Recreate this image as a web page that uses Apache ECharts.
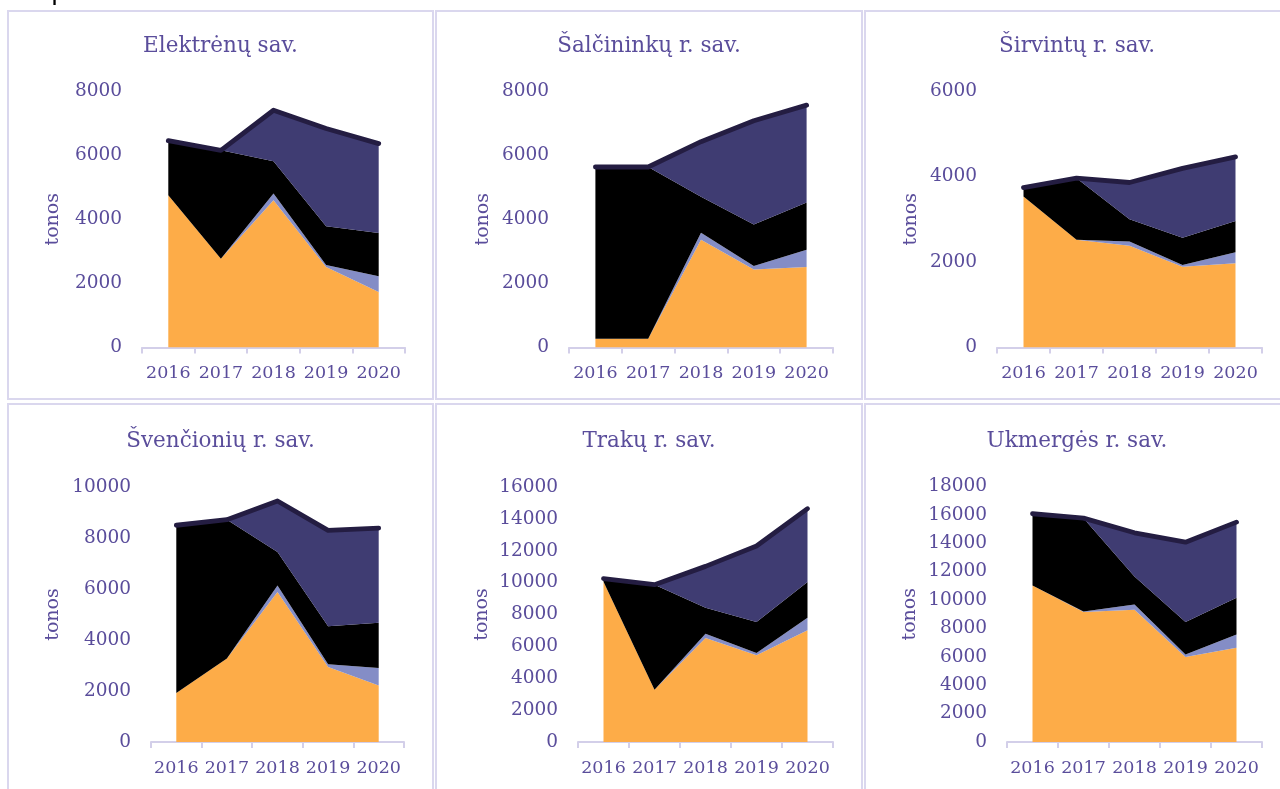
<!DOCTYPE html>
<html>
<head>
<meta charset="utf-8">
<script src="https://cdn.jsdelivr.net/npm/echarts@6/dist/echarts.min.js"></script>
<style>
html,body{margin:0;padding:0;background:#fff;}
#c{width:1280px;height:789px;}
</style>
</head>
<body>
<div id="c"></div>
<script>
const years = ['2016', '2017', '2018', '2019', '2020'];
const titles = ['Elektrėnų sav.', 'Šalčininkų r. sav.', 'Širvintų r. sav.', 'Švenčionių r. sav.', 'Trakų r. sav.', 'Ukmergės r. sav.'];
const yMax = [8000, 8000, 6000, 10000, 16000, 18000];
const yInterval = 2000;
const axisName = 'tonos';

const elektrenuOrange = [4750, 2770, 4590, 2510, 1730];
const elektrenuLight  = [0, 0, 210, 60, 490];
const elektrenuBlack  = [1700, 3380, 1010, 1210, 1350];
const elektrenuNavy   = [0, 0, 1590, 3050, 2790];

const salcininkuOrange = [270, 270, 3360, 2430, 2510];
const salcininkuLight  = [0, 0, 220, 110, 540];
const salcininkuBlack  = [5360, 5360, 1120, 1300, 1470];
const salcininkuNavy   = [0, 0, 1720, 3230, 3040];

const sirvintuOrange = [3530, 2520, 2380, 1890, 1970];
const sirvintuLight  = [0, 0, 100, 40, 260];
const sirvintuBlack  = [210, 1440, 520, 640, 730];
const sirvintuNavy   = [0, 0, 860, 1620, 1500];

const svencioniuOrange = [1920, 3270, 5880, 2940, 2220];
const svencioniuLight  = [0, 0, 260, 110, 680];
const svencioniuBlack  = [6580, 5450, 1310, 1490, 1780];
const svencioniuNavy   = [0, 0, 2000, 3760, 3710];

const trakuOrange = [10050, 3280, 6530, 5440, 7010];
const trakuLight  = [0, 0, 270, 140, 790];
const trakuBlack  = [200, 6590, 1630, 1950, 2240];
const trakuNavy   = [0, 0, 2590, 4770, 4600];

const ukmergesOrange = [11030, 9150, 9320, 5990, 6640];
const ukmergesLight  = [0, 50, 370, 180, 940];
const ukmergesBlack  = [5050, 6570, 1970, 2280, 2580];
const ukmergesNavy   = [0, 0, 3080, 5630, 5330];

const panels = [
  [elektrenuOrange, elektrenuLight, elektrenuBlack, elektrenuNavy],
  [salcininkuOrange, salcininkuLight, salcininkuBlack, salcininkuNavy],
  [sirvintuOrange, sirvintuLight, sirvintuBlack, sirvintuNavy],
  [svencioniuOrange, svencioniuLight, svencioniuBlack, svencioniuNavy],
  [trakuOrange, trakuLight, trakuBlack, trakuNavy],
  [ukmergesOrange, ukmergesLight, ukmergesBlack, ukmergesNavy]
];

const layerColors = ['#FDAC48', '#848DC6', '#000000', '#3F3C72'];
const totalColor = '#241D42';
const textColor = '#5A4D9B';
const borderColor = '#DAD7EE';
const FONT = '"DejaVu Serif", "Liberation Serif", serif';

// layout
const boxes = [
  {x: 8, y: 11, w: 425, h: 388},
  {x: 436, y: 11, w: 426, h: 388},
  {x: 865, y: 11, w: 424, h: 388},
  {x: 8, y: 404, w: 425, h: 400},
  {x: 436, y: 404, w: 426, h: 400},
  {x: 865, y: 404, w: 424, h: 400}
];
const grids = [
  {left: 142, top: 91, width: 263, height: 256.5},
  {left: 569, top: 91, width: 264, height: 256.5},
  {left: 997, top: 91, width: 265, height: 256.5},
  {left: 151, top: 487, width: 253, height: 255},
  {left: 578, top: 487, width: 255, height: 255},
  {left: 1007, top: 486.5, width: 255, height: 255.5}
];
const nameGaps = [79, 76, 76, 88, 86, 87];
const titleY = [46, 46, 46, 441, 441, 441];

const graphic = [];
boxes.forEach(b => {
  graphic.push({type: 'rect', shape: {x: b.x, y: b.y, width: b.w, height: b.h},
    style: {fill: '#fff', stroke: borderColor, lineWidth: 2}, z: -10});
});
boxes.forEach((b, i) => {
  graphic.push({type: 'text', x: b.x + b.w / 2, y: titleY[i],
    style: {text: titles[i], align: 'center', verticalAlign: 'middle',
      font: '21.5px ' + FONT, fill: textColor}, z: 10});
});
graphic.push({type: 'text', x: 51, y: -8,
  style: {text: 'p', align: 'left', verticalAlign: 'middle', font: '26px "DejaVu Sans"', fill: '#000'}, z: 10});

const xAxis = [], yAxis = [], series = [];
grids.forEach((g, i) => {
  xAxis.push({type: 'category', gridIndex: i, data: years, boundaryGap: true,
    axisLine: {lineStyle: {color: '#D3CFE9', width: 2}},
    axisTick: {show: true, length: 6, lineStyle: {color: '#D3CFE9', width: 2}},
    axisLabel: {color: textColor, fontFamily: FONT, fontSize: 17.5, margin: 17, interval: 0},
    splitLine: {show: false}});
  yAxis.push({type: 'value', gridIndex: i, min: 0, max: yMax[i], interval: yInterval,
    name: axisName, nameLocation: 'middle', nameGap: nameGaps[i], nameRotate: 90,
    nameTextStyle: {color: textColor, fontFamily: FONT, fontSize: 19},
    axisLine: {show: false}, axisTick: {show: false}, splitLine: {show: false},
    axisLabel: {color: textColor, fontFamily: FONT, fontSize: 18.5, margin: 20,
      formatter: v => String(v)}});
  const layers = panels[i];
  layers.forEach((d, k) => {
    series.push({type: 'line', xAxisIndex: i, yAxisIndex: i, stack: 'p' + i, data: d,
      symbol: 'none', lineStyle: {width: 0}, areaStyle: {color: layerColors[k], opacity: 1},
      itemStyle: {color: layerColors[k]}, silent: true, animation: false, z: 2});
  });
  const total = years.map((_, j) => layers.reduce((s, arr) => s + arr[j], 0));
  series.push({type: 'line', xAxisIndex: i, yAxisIndex: i, data: total, symbol: 'none',
    lineStyle: {width: 4.8, color: totalColor, cap: 'round', join: 'round'},
    itemStyle: {color: totalColor}, silent: true, animation: false, z: 5});
});

const chart = echarts.init(document.getElementById('c'), null, {renderer: 'canvas'});
chart.setOption({
  animation: false,
  backgroundColor: '#fff',
  grid: grids.map(g => Object.assign({containLabel: false}, g)),
  xAxis, yAxis, series, graphic
});
</script>
</body>
</html>
